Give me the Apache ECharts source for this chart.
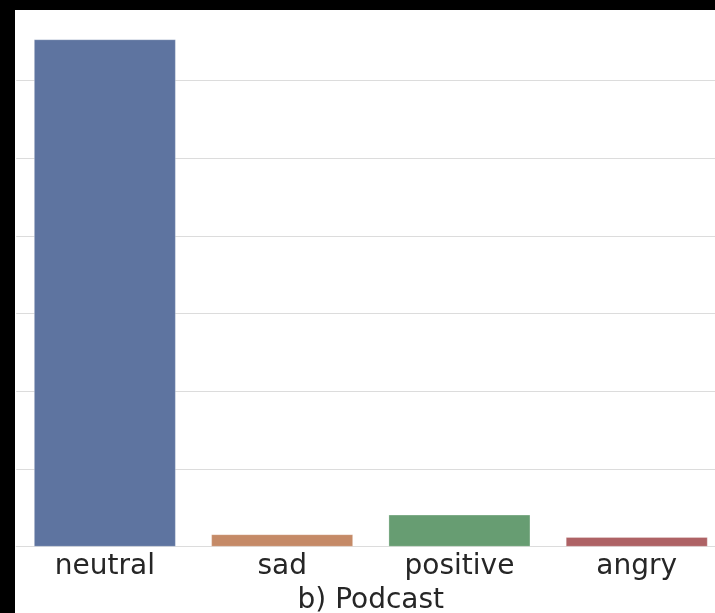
<!DOCTYPE html>
<html>
<head>
<meta charset="utf-8">
<script src="https://cdn.jsdelivr.net/npm/echarts@6/dist/echarts.min.js"></script>
<style>
html,body{margin:0;padding:0;background:#000;width:715px;height:613px;overflow:hidden;}
#clip{position:absolute;left:15px;top:10px;width:700px;height:603px;background:#fff;overflow:hidden;}
#chart{position:absolute;left:0px;top:-20px;width:730px;height:623px;}
</style>
</head>
<body>
<div id="clip"><div id="chart"></div></div>
<script>
const categories = ['neutral', 'sad', 'positive', 'angry'];
const counts = [6530, 160, 412, 125];
const barColors = ['#5e74a0', '#c58a67', '#679d72', '#ae6265'];
const xTitle = 'b) Podcast';

const chart = echarts.init(document.getElementById('chart'), null, {renderer: 'canvas', width: 730, height: 623});
chart.setOption({
  animation: false,
  backgroundColor: '#ffffff',
  grid: {left: 1.2, right: 19.6, top: 12.8, bottom: 66.3, containLabel: false, outerBoundsMode: 'none'},
  xAxis: {
    type: 'category',
    data: categories,
    name: xTitle,
    nameLocation: 'middle',
    nameGap: 40,
    nameTextStyle: {fontFamily: 'DejaVu Sans', fontSize: 28, color: '#262626'},
    axisLine: {show: true, lineStyle: {color: '#dcdcdc', width: 1.2}},
    axisTick: {show: false},
    axisLabel: {fontFamily: 'DejaVu Sans', fontSize: 28, color: '#262626', margin: 6},
    splitLine: {show: false}
  },
  yAxis: {
    type: 'value',
    min: 0,
    max: 7000,
    interval: 1000,
    axisLine: {show: false},
    axisTick: {show: false},
    axisLabel: {show: false},
    splitLine: {show: true, lineStyle: {color: '#dcdcdc', width: 1.2}}
  },
  series: [{
    type: 'bar',
    data: counts.map((v, i) => ({value: v, itemStyle: {color: barColors[i]}})),
    barCategoryGap: '20%',
    itemStyle: {borderColor: 'rgba(255,255,255,0.35)', borderWidth: 0.8}
  }]
});
</script>
</body>
</html>
